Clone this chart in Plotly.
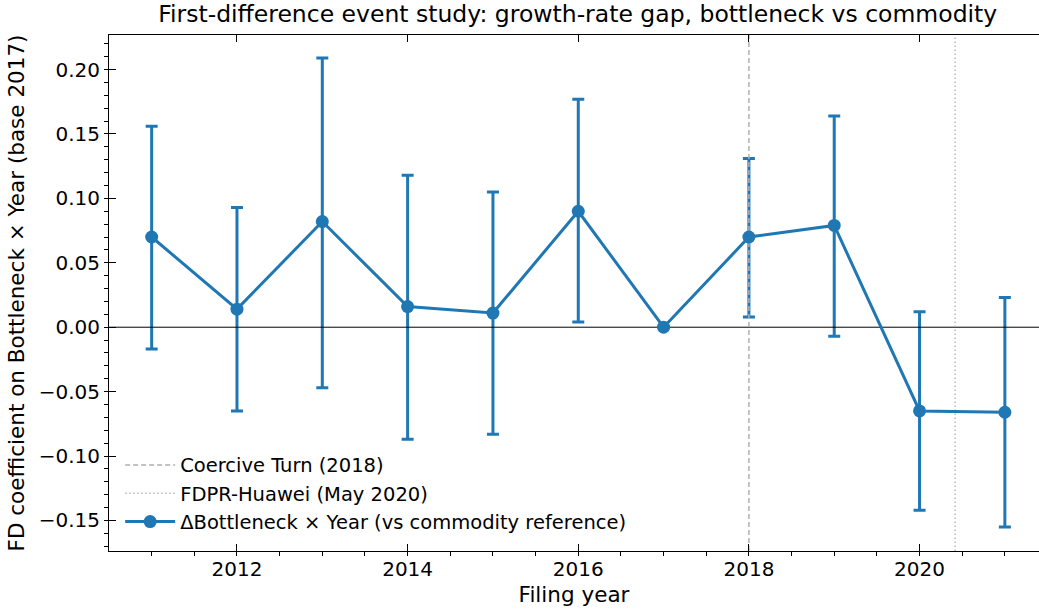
import plotly.graph_objects as go

# Event-study estimates (base year 2017 normalised to zero)
years = [2011, 2012, 2013, 2014, 2015, 2016, 2017, 2018, 2019, 2020, 2021]
coef = [0.070, 0.014, 0.082, 0.016, 0.011, 0.090, 0.000, 0.070, 0.079, -0.065, -0.066]
ci_lo = [-0.017, -0.065, -0.047, -0.087, -0.083, 0.004, 0.000, 0.008, -0.007, -0.142, -0.155]
ci_hi = [0.156, 0.093, 0.209, 0.118, 0.105, 0.177, 0.000, 0.131, 0.164, 0.012, 0.023]

# Policy events
coercive_turn = 2018
fdpr_huawei = 2020 + 5 / 12

BLUE = "#1f77b4"
FONT = "DejaVu Sans"

xrange = [2010.5, 2021.4]
yrange = [-0.1737, 0.2268]

err_plus = [h - c for h, c in zip(ci_hi, coef)]
err_minus = [c - l for c, l in zip(coef, ci_lo)]

fig = go.Figure()

# confidence intervals (drawn first so reference lines sit on top of them)
fig.add_trace(go.Scatter(
    x=years, y=coef, mode="markers",
    marker=dict(size=1, color=BLUE),
    error_y=dict(type="data", symmetric=False, array=err_plus, arrayminus=err_minus,
                 color=BLUE, thickness=3, width=6),
    showlegend=False, hoverinfo="skip",
))

# zero reference
fig.add_trace(go.Scatter(
    x=xrange, y=[0, 0], mode="lines", line=dict(color="black", width=1),
    showlegend=False, hoverinfo="skip",
))

# policy event markers
fig.add_trace(go.Scatter(
    x=[coercive_turn, coercive_turn], y=yrange, mode="lines",
    line=dict(color="#b0b0b0", width=1.5, dash="5px,3px"),
    name="Coercive Turn (2018)", legendrank=1,
))
fig.add_trace(go.Scatter(
    x=[fdpr_huawei, fdpr_huawei], y=yrange, mode="lines",
    line=dict(color="#b8b8b8", width=1.5, dash="1.5px,2.5px"),
    name="FDPR-Huawei (May 2020)", legendrank=2,
))

# point estimates
fig.add_trace(go.Scatter(
    x=years, y=coef,
    mode="lines+markers",
    name="ΔBottleneck × Year (vs commodity reference)",
    line=dict(color=BLUE, width=3),
    marker=dict(size=13, color=BLUE),
    legendrank=3,
))

# invisible trace so the top mirror axis is drawn
fig.add_trace(go.Scatter(x=[None], y=[None], xaxis="x2", showlegend=False, hoverinfo="skip"))

tick_common = dict(tickcolor="black", tickwidth=1, ticklen=7, ticks="inside",
                   showline=True, linecolor="black", linewidth=1, showgrid=False)

fig.update_layout(
    width=1039, height=611,
    margin=dict(l=109, r=0, t=35, b=60),
    paper_bgcolor="white", plot_bgcolor="white",
    font=dict(family=FONT, size=20, color="black"),
    title=dict(text="First-difference event study: growth-rate gap, bottleneck vs commodity",
               x=0.504, xanchor="center", xref="paper", y=0.977, yref="container",
               yanchor="middle", font=dict(size=23.5, family=FONT)),
    xaxis=dict(range=xrange, tick0=2010, dtick=2, automargin=False, zeroline=False,
               minor=dict(tick0=2010, dtick=0.5, ticks="outside", ticklen=4,
                          tickwidth=1, tickcolor="black"),
               title=dict(text="Filing year", standoff=6, font=dict(size=21.5)),
               tickfont=dict(size=20), **tick_common),
    xaxis2=dict(range=xrange, tick0=2010, dtick=2, overlaying="x", side="top",
                anchor="y", showticklabels=False, zeroline=False, **tick_common),
    yaxis=dict(range=yrange, tick0=0, dtick=0.05, tickformat=".2f", automargin=False,
               zeroline=False,
               minor=dict(tick0=0, dtick=0.01, ticks="outside", ticklen=4,
                          tickwidth=1, tickcolor="black"),
               title=dict(text="FD coefficient on Bottleneck × Year (base 2017)",
                          standoff=8, font=dict(size=21.5)),
               tickfont=dict(size=20), ticklabelstandoff=4, **tick_common),
    legend=dict(x=0.012, y=0.018, xanchor="left", yanchor="bottom",
                bgcolor="rgba(255,255,255,0)", borderwidth=0,
                font=dict(size=19.5, family=FONT), itemwidth=50, tracegroupgap=0),
    showlegend=True,
)

fig.write_html("out.html")
